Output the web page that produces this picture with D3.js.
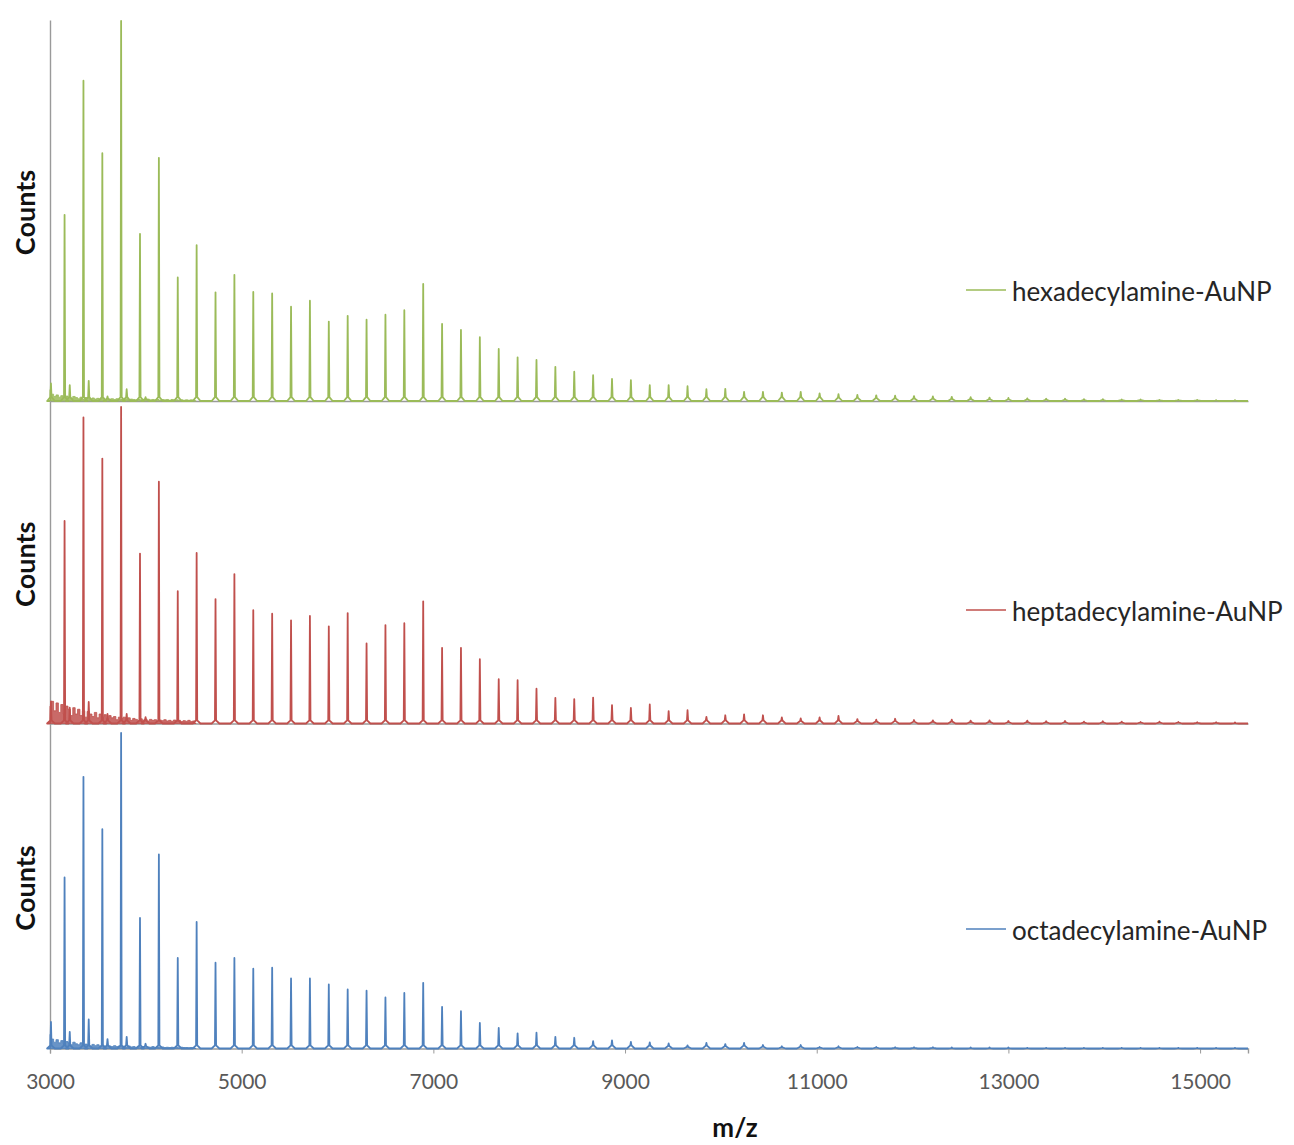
<!DOCTYPE html>
<html>
<head>
<meta charset="utf-8">
<script src="https://cdn.jsdelivr.net/npm/d3@7"></script>
<style>
  body { margin: 0; background: #fff; }
  svg { display: block; }
</style>
</head>
<body>
<svg id="chart" width="1294" height="1145"></svg>
<script>
// ---- data -------------------------------------------------------------
const xTicks = [3000, 5000, 7000, 9000, 11000, 13000, 15000];
const seriesNames = ["hexadecylamine-AuNP", "heptadecylamine-AuNP", "octadecylamine-AuNP"];
const seriesColors = ["#9bbb59", "#c0504d", "#4f81bd"];

// Au_n cluster peak positions (m/z), n = 16 .. 78
const peakMz = [3152, 3349, 3546, 3742, 3939, 4136, 4333, 4530, 4727, 4924,
  5121, 5318, 5515, 5712, 5909, 6106, 6303, 6500, 6697, 6894,
  7091, 7288, 7485, 7682, 7879, 8076, 8273, 8470, 8667, 8864,
  9061, 9258, 9455, 9652, 9849, 10046, 10242, 10439, 10636, 10833,
  11030, 11227, 11424, 11621, 11818, 12015, 12212, 12409, 12606, 12803,
  13000, 13197, 13394, 13591, 13788, 13985, 14182, 14379, 14576, 14773,
  14970, 15167, 15364];

// relative peak intensities (fraction of the strongest peak)
const hexPeaks = [0.490, 0.843, 0.652, 1.000, 0.440, 0.640, 0.325, 0.410, 0.286, 0.332,
  0.287, 0.283, 0.248, 0.264, 0.209, 0.224, 0.214, 0.227, 0.239, 0.308,
  0.203, 0.187, 0.168, 0.137, 0.115, 0.108, 0.090, 0.077, 0.068, 0.058,
  0.055, 0.042, 0.042, 0.039, 0.031, 0.032, 0.024, 0.024, 0.022, 0.024,
  0.020, 0.018, 0.016, 0.015, 0.014, 0.013, 0.012, 0.011, 0.010, 0.009,
  0.008, 0.007, 0.006, 0.006, 0.005, 0.005, 0.004, 0.004, 0.003, 0.003,
  0.003, 0.002, 0.002];
const heptPeaks = [0.640, 0.967, 0.837, 1.000, 0.537, 0.764, 0.418, 0.539, 0.393, 0.472,
  0.358, 0.347, 0.326, 0.340, 0.307, 0.349, 0.253, 0.311, 0.317, 0.386,
  0.239, 0.239, 0.203, 0.140, 0.137, 0.110, 0.081, 0.077, 0.082, 0.058,
  0.049, 0.060, 0.039, 0.042, 0.021, 0.026, 0.029, 0.026, 0.019, 0.016,
  0.019, 0.024, 0.014, 0.012, 0.015, 0.011, 0.010, 0.012, 0.009, 0.010,
  0.008, 0.009, 0.007, 0.008, 0.006, 0.007, 0.006, 0.005, 0.006, 0.005,
  0.004, 0.004, 0.003];
const octPeaks = [0.542, 0.861, 0.695, 1.000, 0.414, 0.615, 0.287, 0.401, 0.272, 0.287,
  0.253, 0.256, 0.222, 0.222, 0.203, 0.187, 0.183, 0.162, 0.176, 0.208,
  0.132, 0.118, 0.081, 0.065, 0.048, 0.050, 0.037, 0.034, 0.023, 0.026,
  0.021, 0.019, 0.016, 0.010, 0.018, 0.014, 0.018, 0.011, 0.007, 0.011,
  0.005, 0.007, 0.005, 0.005, 0.004, 0.004, 0.004, 0.003, 0.003, 0.003,
  0.003, 0.002, 0.002, 0.002, 0.002, 0.002, 0.002, 0.002, 0.002, 0.002,
  0.002, 0.002, 0.002];

// minor side peaks in the low-mass region
const minorMz = [3010, 3206, 3404, 3600, 3800, 3997];
const hexMinor = [0.046, 0.042, 0.053, 0.012, 0.031, 0.010];
const heptMinor = [0.070, 0.050, 0.068, 0.030, 0.030, 0.020];
const octMinor = [0.084, 0.053, 0.092, 0.030, 0.037, 0.015];

// baseline noise envelope, sampled every 25 m/z from 3000
const hexNoise = [0.030, 0.018, 0.012, 0.016, 0.010, 0.014, 0.009, 0.013, 0.010, 0.007, 0.012,
  0.009, 0.006, 0.010, 0.005, 0.009, 0.007, 0.005, 0.008, 0.005,
  0.007, 0.005, 0.007, 0.004, 0.006, 0.005, 0.006, 0.004, 0.006, 0.004,
  0.005, 0.004, 0.006, 0.003, 0.005, 0.004, 0.003, 0.005, 0.003, 0.004,
  0.003, 0.005, 0.003, 0.004, 0.003, 0.004, 0.002, 0.004, 0.003, 0.004,
  0.002, 0.004, 0.003, 0.003, 0.002, 0.003, 0.002, 0.003, 0.002, 0.003, 0.002];
const heptNoise = [0.055, 0.070, 0.040, 0.065, 0.035, 0.060, 0.030, 0.055, 0.045, 0.025, 0.050,
  0.030, 0.045, 0.025, 0.040, 0.020, 0.038, 0.030, 0.022, 0.035, 0.018,
  0.030, 0.020, 0.028, 0.015, 0.025, 0.018, 0.022, 0.012, 0.020, 0.016,
  0.020, 0.012, 0.018, 0.010, 0.016, 0.013, 0.009, 0.015, 0.011, 0.014,
  0.008, 0.013, 0.010, 0.012, 0.007, 0.011, 0.009, 0.012, 0.008, 0.010,
  0.007, 0.011, 0.008, 0.010, 0.006, 0.009, 0.007, 0.010, 0.006, 0.008];
const octNoise = [0.045, 0.030, 0.020, 0.028, 0.018, 0.025, 0.015, 0.022, 0.018, 0.012, 0.020,
  0.015, 0.012, 0.018, 0.010, 0.014, 0.011, 0.008, 0.013, 0.009, 0.012,
  0.008, 0.011, 0.007, 0.010, 0.008, 0.006, 0.009, 0.006, 0.008, 0.006,
  0.007, 0.005, 0.008, 0.005, 0.006, 0.004, 0.007, 0.005, 0.006, 0.004,
  0.005, 0.004, 0.006, 0.003, 0.005, 0.004, 0.005, 0.003, 0.004, 0.003,
  0.004, 0.003, 0.004, 0.002, 0.004, 0.003, 0.003, 0.002, 0.003, 0.002];

const seriesPeaks = [hexPeaks, heptPeaks, octPeaks];
const seriesMinor = [hexMinor, heptMinor, octMinor];
const seriesNoise = [hexNoise, heptNoise, octNoise];

// ---- layout -----------------------------------------------------------
const svg = d3.select("#chart");
const left = 50, right = 1248;
// each panel: frame top/bottom and the height reached by the tallest peak
const panels = [
  { top: 20,    bottom: 401,    peakTop: 21 },
  { top: 401,   bottom: 723.5,  peakTop: 407 },
  { top: 723.5, bottom: 1048.5, peakTop: 733 }
];
const legendY = [290, 610, 929];

const x = d3.scaleLinear().domain([3000, 15500]).range([left, right]);
const axisGray = "#9a9a9a";
const font = "Lato, 'Open Sans', sans-serif";

const line = d3.line().x(d => x(d[0])).y(d => d[1]);

panels.forEach((p, i) => {
  const yMax = (p.bottom - p.top) / (p.bottom - p.peakTop);
  const y = d3.scaleLinear().domain([0, yMax]).range([p.bottom, p.top]);
  const g = svg.append("g");

  // frame: left and bottom axis lines
  g.append("g")
    .attr("transform", `translate(${left},0)`)
    .call(d3.axisLeft(y).tickValues([]).tickSizeOuter(0))
    .call(a => a.select(".domain").attr("stroke", axisGray).attr("stroke-width", 1.4));
  const bottomAxis = d3.axisBottom(x).tickSizeOuter(0);
  if (i === panels.length - 1) {
    bottomAxis.tickValues(xTicks).tickSize(5).tickFormat(d3.format("d"));
  } else {
    bottomAxis.tickValues([]);
  }
  const ax = g.append("g")
    .attr("transform", `translate(0,${p.bottom})`)
    .call(bottomAxis);
  ax.select(".domain").attr("stroke", axisGray).attr("stroke-width", 1.4);
  ax.selectAll(".tick line").attr("stroke", axisGray);
  ax.selectAll(".tick text")
    .attr("fill", "#595959")
    .attr("font-family", font)
    .attr("font-size", 21)
    .attr("dy", "1.55em");

  const color = seriesColors[i];

  // baseline noise band in the low-mass region
  const noise = seriesNoise[i].map((v, k) => [3000 + 25 * k, v]);
  noise.push([3000 + 25 * noise.length, 0]);
  const band = d3.area()
    .x(d => x(d[0]))
    .y0(y(0))
    .y1(d => y(d[1]))
    .curve(d3.curveStep);
  g.append("path")
    .attr("d", band(noise))
    .attr("fill", color)
    .attr("fill-opacity", 0.85)
    .attr("stroke", color)
    .attr("stroke-width", 0.8);

  // main spectrum: each peak drawn as a narrow spike on the baseline
  const peaks = peakMz.map((m, k) => [m, seriesPeaks[i][k]])
    .concat(minorMz.map((m, k) => [m, seriesMinor[i][k]]))
    .sort((a, b) => a[0] - b[0]);
  const pts = [[3000, y(0)]];
  peaks.forEach(([m, h]) => {
    const foot = Math.min(h * 0.5, 0.01);
    pts.push([m - 40, y(0)], [m - 6, y(foot)], [m, y(h)], [m + 6, y(foot)], [m + 40, y(0)]);
  });
  pts.push([15500, y(0)]);
  g.append("path")
    .attr("d", line(pts))
    .attr("fill", "none")
    .attr("stroke", color)
    .attr("stroke-width", 1.8)
    .attr("stroke-linejoin", "round");

  // y-axis title
  const cy = (p.top + p.bottom) / 2 + 2;
  g.append("text")
    .attr("transform", `translate(28,${cy}) rotate(-90)`)
    .attr("text-anchor", "middle")
    .attr("dominant-baseline", "middle")
    .attr("font-family", font)
    .attr("font-weight", "bold")
    .attr("font-size", 27)
    .attr("fill", "#111")
    .text("Counts");

  // legend entry
  const ly = legendY[i];
  g.append("line")
    .attr("x1", 966).attr("x2", 1006)
    .attr("y1", ly).attr("y2", ly)
    .attr("stroke", color).attr("stroke-width", 1.6);
  g.append("text")
    .attr("x", 1012).attr("y", ly + 4)
    .attr("dominant-baseline", "middle")
    .attr("font-family", font)
    .attr("font-size", 26)
    .attr("fill", "#262626")
    .text(seriesNames[i]);
});

// x-axis title
svg.append("text")
  .attr("x", 735).attr("y", 1130)
  .attr("text-anchor", "middle")
  .attr("dominant-baseline", "middle")
  .attr("font-family", font)
  .attr("font-weight", "bold")
  .attr("font-size", 26)
  .attr("fill", "#111")
  .text("m/z");
</script>
</body>
</html>
